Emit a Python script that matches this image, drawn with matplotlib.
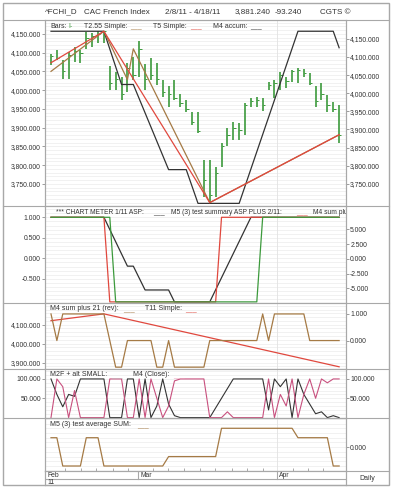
import matplotlib.pyplot as plt
from matplotlib.lines import Line2D
from matplotlib.patches import Rectangle
from matplotlib.ticker import MultipleLocator, FixedLocator, FuncFormatter

plt.rcParams['font.family'] = ['Liberation Sans', 'DejaVu Sans']

W, H = 393, 490

# ---- price bars (high / low / close), one per trading day 2/8/11 - 4/18/11
highs = [4097, 4108, 4081, 4103, 4116, 4108, 4156, 4153, 4157, 4157,
         4065, 4049, 4036, 4073, 4089, 4132, 4070, 4087, 4073, 4028,
         4010, 4028, 3990, 3975, 3943, 3943, 3815, 3815, 3794, 3860,
         3900, 3916, 3913, 3967, 3980, 3982, 3980, 4023, 4028, 4049,
         4036, 4055, 4060, 4057, 4047, 4010, 4020, 3988, 3969, 3961]
lows = [4066, 4081, 4031, 4031, 4076, 4073, 4111, 4116, 4127, 4127,
        4001, 4001, 3975, 3996, 4028, 4036, 4000, 4028, 4015, 3983,
        3956, 3975, 3955, 3943, 3908, 3887, 3714, 3700, 3714, 3796,
        3850, 3868, 3868, 3881, 3956, 3955, 3945, 4001, 3980, 4001,
        4007, 4023, 4020, 4036, 4015, 3956, 3975, 3943, 3943, 3860]
closes = [4090, 4085, 4050, 4095, 4105, 4100, 4140, 4145, 4150, 4157,
          4020, 4030, 3990, 4060, 4040, 4110, 4030, 4040, 4030, 3995,
          3990, 3980, 3965, 3950, 3915, 3890, 3760, 3720, 3780, 3850,
          3880, 3900, 3895, 3960, 3970, 3975, 3960, 4015, 4020, 4040,
          4025, 4050, 4055, 4045, 4020, 3970, 3990, 3960, 3950, 3881]

# overlay lines on the price panel (vertex bar index, value)
t255_idx = [0, 9, 13, 14, 27, 49]
t255_val = [4050, 4157, 4028, 4110, 3700, 3881]
t5_idx = [0, 9, 27, 49]
t5_val = [4073, 4157, 3700, 3881]
m4acc_idx = [0, 9, 12, 14, 20, 23, 25, 32, 42, 48, 49]
m4acc_val = [4157, 4157, 4015, 4015, 3788, 3788, 3698, 3698, 4157, 4157, 4113]

# chart meter panel
meter_idx = [0, 9, 13, 14, 16, 20, 21, 27, 34, 49]
meter_val = [1, 1, -0.19, -0.19, -0.77, -0.77, -1.06, -1.06, 1, 1]
asp_idx = [0, 9, 10, 28, 29, 49]
asp_val = [1, 1, -1.06, -1.06, 1, 1]
m4sum_idx = [0, 10, 11, 35, 36, 49]
m4sum_val = [1, 1, -1.06, -1.06, 1, 1]

# M4 sum plus 21 (rev) / T11
rev21 = [1, 0, 1, 1, 1, 1, 1, 1, 1, 1, 0, -1, -1, 0, 0, 0, 0, 0, -1, -1,
         0, -1, -1, -1, -1, -1, -1, 0, 0, 0, 0, 0, 0, 0, 0, 0, 1, 0, 1, 1,
         1, 1, 1, 1, 0, 0, 0, 0, 0, 0]
t11_idx = [0, 9, 49]
t11_val = [4121, 4157, 3878]

# M2F + alt SMALL / M4 (Close)
m2f = [100, 60, 28, 60, 55, 100, 100, 100, 100, 100, 0, 0, 0, 100, 100, 0, 100, 0, 30, 100,
       35, 5, 0, 0, 0, 0, 0, 0, 25, 50, 75, 100, 100, 100, 100, 100, 100, 20, 100, 80,
       100, 0, 100, 60, 35, 10, 15, 0, 5, 0]
m4close = [0, 100, 80, 0, 70, 0, 0, 0, 0, 0, 100, 100, 100, 0, 0, 100, 0, 100, 50, 0,
           30, 95, 100, 100, 100, 100, 100, 0, 0, 0, 15, 0, 0, 0, 0, 0, 0, 100, 0, 60,
           30, 100, 0, 60, 100, 50, 100, 90, 100, 100]

# M5 (3) test average SUM
m5avg = [1, 1, -2, -2, -2, -2, 1, 1, 1, -2, -2, -2, -2, -2, -2, -2, -2, -2, -2, -2,
         -1, -1, -1, -1, -1, -1, -1, -1, -1, 2, 2, 2, 2, 2, 2, 2, 2, 2, 2, 2,
         2, 2, 1, 1, 1, 1, 1, 1, -2, -2]

months = ['Feb', 'Mar', 'Apr']
month_pos = [-1.0, 14.8, 38.4]
date_ticks = [2.4, 5.1, 7.7, 10.5, 13.1, 17.3, 19.9, 22.6, 25.3, 27.9,
              30.7, 33.3, 36.1, 41.1, 43.7, 46.3]

GREEN = '#3c9a3c'
BROWN = '#a57a45'
RED = '#e0483e'
BLACK = '#333333'
PINK = '#c8507e'
GRID = '#ececec'
FRAME = '#a8a8a8'
TXT = '#333333'

fig = plt.figure(figsize=(W / 100, H / 100), dpi=100)
bars = list(range(len(highs)))


def box(y0, y1):
    return [45 / W, 1 - y1 / H, 301 / W, (y1 - y0) / H]


def txt(x, y, s, color=TXT, size=5.0, ha='left'):
    return fig.text(x / W, 1 - y / H, s, color=color, fontsize=size, ha=ha, va='center')


fmt = FuncFormatter(lambda v, p: f"{v:,.3f}")


def panel(y0, y1, ylim, rlim, lticks, rticks, minor):
    ax = fig.add_axes(box(y0, y1))
    ax.set_xlim(-1.02, 50.17)
    ax.set_ylim(*ylim)
    ax.set_xticks([])
    ax.yaxis.set_major_locator(FixedLocator(lticks))
    ax.yaxis.set_major_formatter(fmt)
    ax.yaxis.set_minor_locator(MultipleLocator(minor))
    ax.grid(which='both', axis='y', color=GRID, lw=0.5)
    ax.axvline(38.4, color='#e2e2e2', lw=0.6)
    ax.tick_params(axis='y', which='major', length=2, width=0.5, color='#777777',
                   labelsize=4.9, labelcolor=TXT, pad=1)
    ax.tick_params(axis='y', which='minor', length=0)
    for s in ax.spines.values():
        s.set_color(FRAME)
        s.set_linewidth(0.8)
    axr = ax.twinx()
    axr.set_ylim(*rlim)
    axr.yaxis.set_major_locator(FixedLocator(rticks))
    axr.yaxis.set_major_formatter(fmt)
    axr.tick_params(axis='y', length=2, width=0.5, color='#777777',
                    labelsize=4.9, labelcolor=TXT, pad=1)
    for s in axr.spines.values():
        s.set_visible(False)
    ax.set_axisbelow(True)
    return ax, axr


# ---- panel 1: price
ax1, ax1r = panel(20, 206, (3691, 4187), (3689, 4202),
                  [3750, 3800, 3850, 3900, 3950, 4000, 4050, 4100, 4150],
                  [3750, 3800, 3850, 3900, 3950, 4000, 4050, 4100, 4150], 10)
ax1.vlines(bars, lows, highs, color=GREEN, lw=1.2)
ax1.hlines(closes, [b for b in bars], [b + 0.4 for b in bars], color=GREEN, lw=0.7)
ax1.plot(m4acc_idx, m4acc_val, color=BLACK, lw=0.9)
ax1.plot(t255_idx, t255_val, color=BROWN, lw=0.9)
ax1.plot(t5_idx, t5_val, color=RED, lw=0.9)

# ---- panel 2: chart meter
ax2, ax2r = panel(206, 302.5, (-1.075, 1.275), (-7.4, 8.95),
                  [-0.5, 0, 0.5, 1.0], [-5, -2.5, 0, 2.5, 5], 0.1)
ax2.plot(meter_idx, meter_val, color=BLACK, lw=0.9)
ax2.plot(asp_idx, asp_val, color=RED, lw=0.9)
ax2.plot(m4sum_idx, m4sum_val, color=GREEN, lw=0.9)

# ---- panel 3
ax3, ax3r = panel(302.5, 368.5, (3869, 4217), (-1.05, 1.43),
                  [3900, 4000, 4100], [0, 1], 20)
ax3r.plot(bars, rev21, color=BROWN, lw=0.9)
ax3.plot(t11_idx, t11_val, color=RED, lw=0.9)

# ---- panel 4
ax4, ax4r = panel(368.5, 418, (-1, 127), (-1, 127), [50, 100], [50, 100], 10)
ax4.plot(bars, m2f, color=BLACK, lw=0.8)
ax4.plot(bars, m4close, color=PINK, lw=0.8)

# ---- panel 5 (date ticks on its lower edge)
ax5, ax5r = panel(418, 471, (-2.53, 3.09), (-2.53, 3.09), [], [0], 0.5)
ax5.plot(bars, m5avg, color=BROWN, lw=0.9)
ax5.set_xticks(date_ticks)
ax5.tick_params(axis='x', direction='in', length=2, width=0.5, color='#888888',
                labelbottom=False)

# ---- date strip
axd = fig.add_axes(box(471, 485))
axd.set_xlim(-1.02, 50.17)
axd.set_ylim(0, 1)
axd.set_yticks([])
axd.set_xticks([])
for s in axd.spines.values():
    s.set_color(FRAME)
    s.set_linewidth(0.8)
axd.axhline(0.43, color=FRAME, lw=0.8)
for m, p in zip(months, month_pos):
    if p > 0:
        axd.plot([p, p], [0.43, 1], color=FRAME, lw=0.8)
    axd.text(p + 0.35, 0.7, m, fontsize=4.9, color=TXT, va='center', ha='left')
axd.text(-0.65, 0.2, '11', fontsize=4.9, color=TXT, va='center', ha='left')

# ---- frame and separators
fig.add_artist(Rectangle((3 / W, 1 - 485 / H), 386 / W, 482 / H, fill=False,
                         edgecolor=FRAME, lw=1.0, transform=fig.transFigure))
for y in [20, 206, 302.5, 368.5, 418]:
    fig.add_artist(Line2D([3 / W, 389 / W], [1 - y / H, 1 - y / H], color=FRAME, lw=0.8))
fig.add_artist(Line2D([45 / W, 389 / W], [1 - 471 / H, 1 - 471 / H], color=FRAME, lw=0.8))
fig.add_artist(Line2D([346 / W, 346 / W], [1 - 20 / H, 1 - 485 / H], color=FRAME, lw=0.8))
fig.add_artist(Line2D([45 / W, 45 / W], [1 - 20 / H, 1 - 485 / H], color=FRAME, lw=0.8))
txt(367, 478, 'Daily', size=5, ha='center')

# ---- title row
txt(45, 12, '^FCHI_D', size=5.8)
txt(84, 12, 'CAC French Index', size=5.8)
txt(165, 12, '2/8/11 - 4/18/11', size=5.8)
txt(235, 12, '3,881.240', size=5.8)
txt(275, 12, '-93.240', size=5.8)
txt(320, 12, 'CGTS \u00a9', size=5.8)

# ---- legends
txt(50, 26, 'Bars:')
txt(68, 26, 'I-', color=GREEN)
txt(84, 26, 'T2.55 Simple:')
txt(130, 26.5, '___', color=BROWN)
txt(153, 26, 'T5 Simple:')
txt(190, 26.5, '___', color=RED)
txt(213, 26, 'M4 accum:')
txt(250, 26.5, '___', color=BLACK)

txt(56, 212, '*** CHART METER 1/11 ASP:', size=4.8)
txt(153, 212.5, '___', color=BLACK)
txt(171, 212, 'M5 (3) test summary ASP PLUS 2/11:', size=4.8)
txt(296, 212.5, '___', color=RED)
t = txt(313, 212, 'M4 sum plus', size=4.8)
t.set_clip_box(ax2.bbox)
t.set_clip_on(True)

txt(50, 309, 'M4 sum plus 21 (rev):')
txt(123, 309.5, '___', color=BROWN)
txt(145, 309, 'T11 Simple:')
txt(185, 309.5, '___', color=RED)

txt(50, 375, 'M2F + alt SMALL:')
txt(111, 375.5, '___', color='#bbbbbb')
txt(133, 375, 'M4 (Close):')
txt(173, 375.5, '___', color='#e8a0b8')

txt(50, 425, 'M5 (3) test average SUM:')
txt(137, 425.5, '___', color=BROWN)

fig.savefig('out.png', dpi=100)
